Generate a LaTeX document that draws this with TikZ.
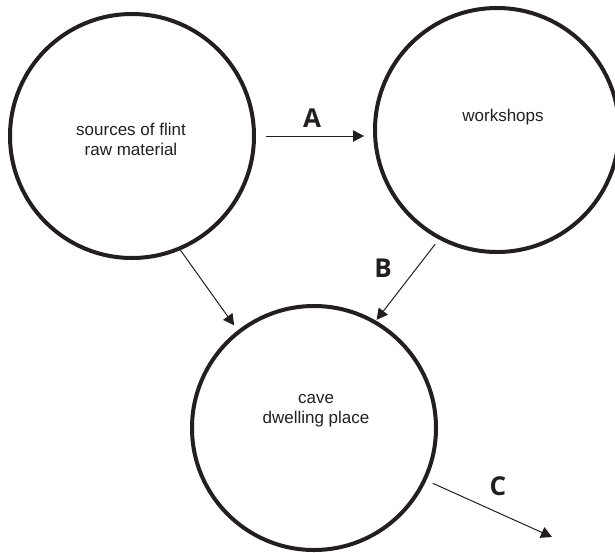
\documentclass[tikz,border=0pt]{standalone}
\usepackage{fontspec}
\setmainfont{Liberation Sans}
\newfontfamily\labfont{Open Sans}
\usetikzlibrary{arrows.meta,calc}
\definecolor{ink}{HTML}{231F20}
\tikzset{
  place/.style={circle,draw=ink,line width=4pt,minimum size=244pt,inner sep=0pt},
  txt/.style={text=ink,font=\fontsize{17}{20}\selectfont,align=center,inner sep=0pt},
  lab/.style={text=ink,font=\labfont\bfseries\fontsize{26}{28}\selectfont,inner sep=0pt},
  arr/.style={draw=ink,line width=1pt,-{Triangle[length=11pt,width=11.5pt]}}
}
\begin{document}
\begin{tikzpicture}[x=1pt,y=-1pt]
\useasboundingbox (0,0) rectangle (615,552);
\node[place] (src) at (132,136) {};
\node[place] (ws) at (497,130) {};
\node[place] (cave) at (314,428) {};
\node[txt] (srct) at (131,139) {sources of flint\\raw material};
\node[txt] (wst) at (503,117) {workshops};
\node[txt] (cavet) at (316,411) {cave\\dwelling place};
\coordinate (cend) at (552,537);
\draw[arr] ([xshift=10pt]src.east) -- ([xshift=-9pt]src.east -| ws.west);
\draw[arr,shorten >=6pt] (src.-67) -- (cave.128);
\draw[arr,shorten <=6pt,shorten >=1pt] (ws.-118) -- (cave.60);
\draw[arr,shorten <=7pt] (cave.-25) -- (cend);
\node[lab] (la) at (312,118) {A};
\node[lab] (lb) at (383,268) {B};
\node[lab] (lc) at (498,486) {C};
\end{tikzpicture}
\end{document}
